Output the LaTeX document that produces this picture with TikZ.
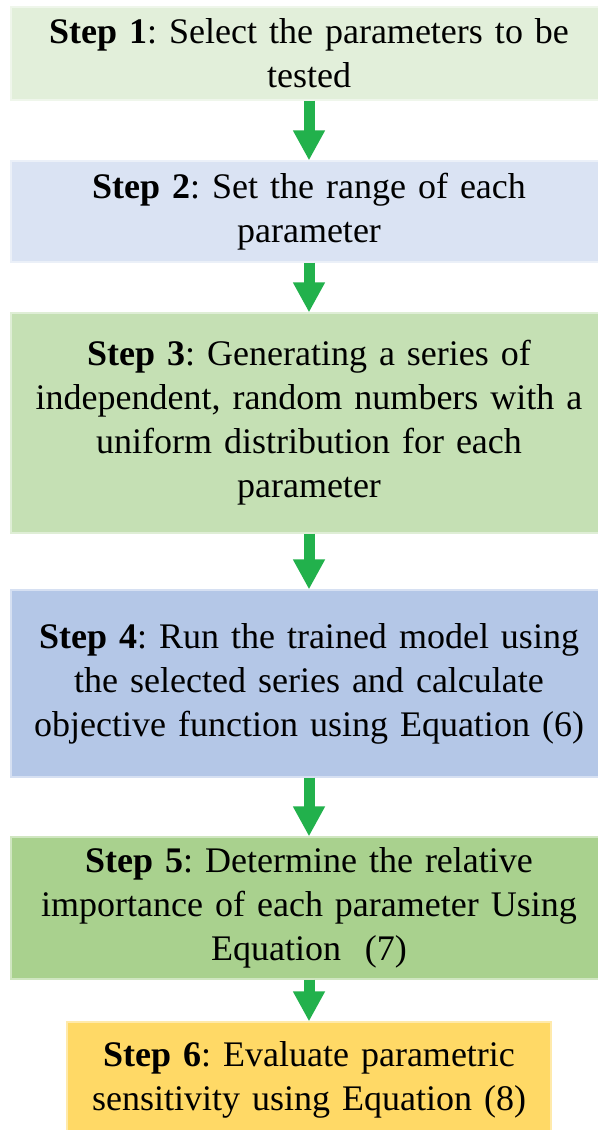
\documentclass[tikz,border=0pt]{standalone}
\usepackage{fontspec}
\setmainfont{Liberation Serif}
\usetikzlibrary{arrows.meta}
\frenchspacing

\definecolor{stepA}{HTML}{E2EFDA}
\definecolor{stepB}{HTML}{DAE3F3}
\definecolor{stepC}{HTML}{C5E0B4}
\definecolor{stepD}{HTML}{B4C7E7}
\definecolor{stepE}{HTML}{A9D18E}
\definecolor{stepF}{HTML}{FFD966}
\definecolor{arrgreen}{HTML}{22B14C}

\begin{document}
\begin{tikzpicture}[
  x=0.5pt, y=-0.5pt,
  font=\fontsize{18}{22}\selectfont,
  box/.style={fill=#1, draw=#1!55!white, line width=0.6pt, align=center,
              text width=285pt, minimum width=298pt, inner sep=0pt},
  smallbox/.style={fill=#1, draw=#1!55!white, line width=0.6pt, align=center,
                   text width=235pt, minimum width=242pt, inner sep=0pt},
  a/.style={-{Triangle[width=15pt,length=15pt]}, line width=5.5pt, draw=arrgreen}
]
\useasboundingbox (0,0) rectangle (598,1130);

\node[box=stepA, minimum height=46.5pt] (s1) at (309,53.5)
  {\textbf{Step 1}: Select the parameters to be\\tested};
\node[box=stepB, minimum height=50.5pt] (s2) at (309,211.5)
  {\textbf{Step 2}: Set the range of each\\parameter};
\node[box=stepC, minimum height=110pt] (s3) at (309,423)
  {\textbf{Step 3}: Generating a series of\\independent, random numbers with a\\uniform distribution for each\\parameter};
\node[box=stepD, minimum height=93.5pt] (s4) at (309,683.5)
  {\textbf{Step 4}: Run the trained model using\\the selected series and calculate\\objective function using Equation (6)};
\node[box=stepE, minimum height=71pt] (s5) at (309,908)
  {\textbf{Step 5}: Determine the relative\\importance of each parameter Using\\Equation~ (7)};
\node[smallbox=stepF, minimum height=58pt] (s6) at (309,1080)
  {\textbf{Step 6}: Evaluate parametric\\sensitivity using Equation (8)};

\draw[a] (s1) -- (s2);
\draw[a] (s2) -- (s3);
\draw[a] (s3) -- (s4);
\draw[a] (s4) -- (s5);
\draw[a] (s5) -- (s6);
\end{tikzpicture}
\end{document}
